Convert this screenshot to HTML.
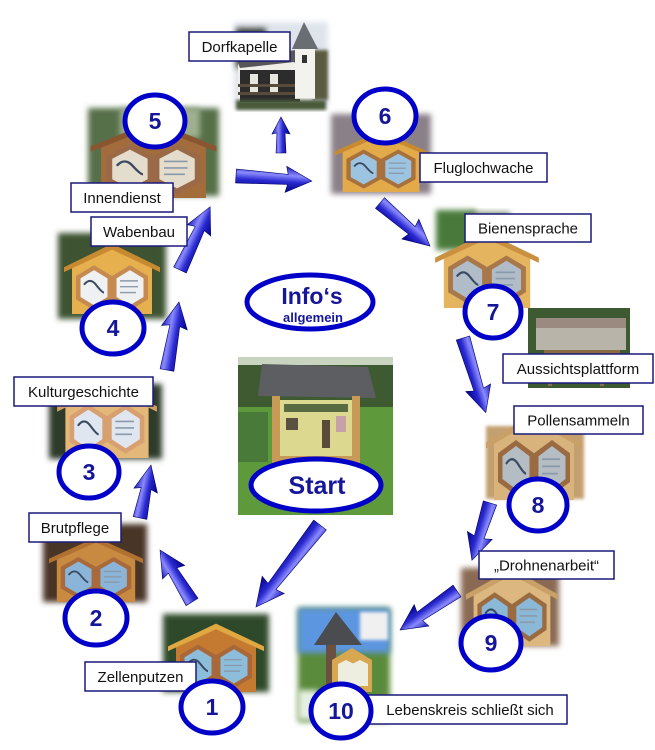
<!DOCTYPE html>
<html><head><meta charset="utf-8">
<style>
html,body{margin:0;padding:0;background:#fff;}
svg{display:block;}
.lbl rect{fill:#fff;stroke:#1a1a7a;stroke-width:1.5;}
.lbl text{font-family:"Liberation Sans",Arial,sans-serif;font-size:15px;fill:#111;text-anchor:middle;}
.num ellipse{fill:#fff;stroke:#0000c8;stroke-width:5;}
.num text{font-family:"Liberation Sans",Arial,sans-serif;font-weight:bold;font-size:23px;fill:#16169a;text-anchor:middle;}
.arr{fill:url(#ag);stroke:#00006a;stroke-width:0.6;}
</style></head>
<body>
<svg width="655" height="750" viewBox="0 0 655 750" xmlns="http://www.w3.org/2000/svg">
<defs>
  <filter id="soft" x="-20%" y="-20%" width="140%" height="140%"><feGaussianBlur stdDeviation="3"/></filter>
  <filter id="soft2" x="-20%" y="-20%" width="140%" height="140%"><feGaussianBlur stdDeviation="1.5"/></filter>
  <linearGradient id="ag" x1="0" y1="0" x2="0" y2="1">
    <stop offset="0" stop-color="#1a1ab8"/>
    <stop offset="0.35" stop-color="#8a8aff"/>
    <stop offset="0.6" stop-color="#2a2ad0"/>
    <stop offset="1" stop-color="#00008a"/>
  </linearGradient>
  <symbol id="sign" viewBox="0 0 100 80" preserveAspectRatio="none">
    <polygon points="10,30 50,12 90,30 90,80 10,80" style="fill:var(--wood)"/>
    <polygon points="2,32 50,8 98,32 98,37 50,14 2,37" style="fill:var(--roof)"/>
    <polygon points="32,30 50,41 50,65 32,76 14,65 14,41" style="fill:var(--frame)"/>
    <polygon points="32,35 45.5,43.5 45.5,62.5 32,71 18.5,62.5 18.5,43.5" style="fill:var(--panel)"/>
    <polygon points="68,30 86,41 86,65 68,76 50,65 50,41" style="fill:var(--frame)"/>
    <polygon points="68,35 81.5,43.5 81.5,62.5 68,71 54.5,62.5 54.5,43.5" style="fill:var(--panel)"/>
    <path d="M22,50 q6,-8 12,0 t8,8" stroke="#3a4a60" stroke-width="2" fill="none"/>
    <path d="M58,46 h18 M58,52 h18 M58,58 h16" stroke="#8a9aaa" stroke-width="1.5"/>
  </symbol>
</defs>

<!-- ===== Photos ===== -->
<!-- Chapel -->
<g>
  <rect x="234" y="22" width="94" height="86" fill="#dfe4ec" filter="url(#soft)"/>
  <rect x="236" y="28" width="30" height="40" fill="#3c4238" filter="url(#soft)"/>
  <rect x="312" y="50" width="16" height="50" fill="#5a5a40" filter="url(#soft2)"/>
  <polygon points="238,60 300,60 312,72 312,100 238,100" fill="#f0eee8"/>
  <polygon points="236,58 296,50 312,70 306,74 294,62 240,68" fill="#55555a"/>
  <rect x="240" y="70" width="60" height="32" fill="#2c2c2c"/>
  <rect x="250" y="74" width="8" height="18" fill="#e8e6e0"/>
  <rect x="270" y="74" width="8" height="18" fill="#e8e6e0"/>
  <rect x="238" y="84" width="66" height="3" fill="#5a4a3a"/>
  <rect x="238" y="92" width="66" height="3" fill="#5a4a3a"/>
  <rect x="295" y="47" width="20" height="52" fill="#f4f2ee"/>
  <polygon points="292,49 304,22 318,49" fill="#6a6e72"/>
  <rect x="302" y="55" width="5" height="8" fill="#333"/>
  <rect x="236" y="100" width="90" height="10" fill="#4a5a3a" filter="url(#soft2)"/>
</g>
<!-- Photo 5 -->
<g>
  <rect x="88" y="108" width="131" height="88" fill="#56704a" filter="url(#soft)"/>
  <rect x="120" y="108" width="80" height="30" fill="#9fb090" filter="url(#soft)"/>
  <use href="#sign" x="88" y="112" width="131" height="86" style="--wood:#a36c3c;--roof:#8a5630;--frame:#9a6a48;--panel:#e4dccc"/>
</g>
<!-- Photo 6 -->
<g>
  <rect x="331" y="114" width="100" height="80" fill="#8a8088" filter="url(#soft)"/>
  <use href="#sign" x="333" y="124" width="96" height="68" style="--wood:#e2aa48;--roof:#c88a30;--frame:#a8703c;--panel:#9cc4e0"/>
</g>
<!-- Photo 7 -->
<g>
  <rect x="436" y="210" width="40" height="40" fill="#4a7a3a" filter="url(#soft)"/>
  <rect x="470" y="212" width="40" height="20" fill="#7a8a6a" filter="url(#soft)"/>
  <use href="#sign" x="433" y="224" width="108" height="84" style="--wood:#e4b45e;--roof:#c89040;--frame:#a8784a;--panel:#b0bcc8"/>
</g>
<!-- Aussichtsplattform -->
<g>
  <rect x="528" y="308" width="102" height="80" fill="#3e5a32"/>
  <rect x="536" y="318" width="90" height="12" fill="#9a8a80"/>
  <rect x="536" y="328" width="90" height="22" fill="#b8b4aa"/>
  <rect x="544" y="350" width="76" height="6" fill="#8a6a40"/>
  <rect x="548" y="356" width="4" height="30" fill="#8a7050"/>
  <rect x="600" y="356" width="4" height="30" fill="#8a7050"/>
</g>
<!-- Photo 4 -->
<g>
  <rect x="58" y="233" width="108" height="86" fill="#3e5232" filter="url(#soft)"/>
  <use href="#sign" x="62" y="236" width="100" height="78" style="--wood:#e6b04e;--roof:#c88a30;--frame:#c48a50;--panel:#eef0f2"/>
</g>
<!-- Photo 3 -->
<g>
  <rect x="49" y="384" width="113" height="75" fill="#2e3a2a" filter="url(#soft)"/>
  <use href="#sign" x="55" y="372" width="104" height="86" style="--wood:#e4b878;--roof:#d4a060;--frame:#d8a070;--panel:#dfe6f0"/>
</g>
<!-- Photo 2 -->
<g>
  <rect x="43" y="524" width="104" height="78" fill="#4a3628" filter="url(#soft)"/>
  <use href="#sign" x="47" y="530" width="98" height="72" style="--wood:#c88a40;--roof:#b07030;--frame:#a86a3a;--panel:#8ab4d8"/>
</g>
<!-- Photo 1 -->
<g>
  <rect x="163" y="614" width="106" height="78" fill="#2e4a2a" filter="url(#soft)"/>
  <use href="#sign" x="166" y="616" width="100" height="76" style="--wood:#c47a30;--roof:#e0a840;--frame:#a8683a;--panel:#8cbedc"/>
</g>
<!-- Photo 8 -->
<g>
  <rect x="486" y="426" width="98" height="73" fill="#c4a070" filter="url(#soft2)"/>
  <use href="#sign" x="484" y="404" width="100" height="96" style="--wood:#d8b47c;--roof:#c8a068;--frame:#9a6a40;--panel:#b4bcc4"/>
</g>
<!-- Photo 9 -->
<g>
  <rect x="461" y="568" width="98" height="78" fill="#8a6a52" filter="url(#soft)"/>
  <use href="#sign" x="464" y="560" width="96" height="86" style="--wood:#dcb880;--roof:#c8a068;--frame:#9a6a40;--panel:#8cb8d8"/>
</g>
<!-- Start photo -->
<g>
  <rect x="238" y="357" width="155" height="158" fill="#5e9a3c"/>
  <rect x="238" y="357" width="155" height="50" fill="#3e5a30"/>
  <rect x="238" y="357" width="155" height="8" fill="#c8d4c0"/>
  <rect x="238" y="412" width="30" height="50" fill="#4a7a3a"/>
  <polygon points="262,364 368,367 376,398 258,396" fill="#5c5e62"/>
  <rect x="272" y="396" width="8" height="110" fill="#c89a58"/>
  <rect x="352" y="396" width="8" height="110" fill="#c89a58"/>
  <rect x="280" y="400" width="72" height="56" fill="#dcd890"/>
  <rect x="284" y="404" width="64" height="8" fill="#5a6a40"/>
  <rect x="286" y="418" width="12" height="12" fill="#5a5040"/>
  <rect x="322" y="420" width="8" height="28" fill="#5a4a3a"/>
  <rect x="336" y="416" width="10" height="16" fill="#c8a0a8"/>
  <rect x="280" y="456" width="72" height="6" fill="#c89a58"/>
</g>
<!-- Photo 10 -->
<g>
  <rect x="298" y="608" width="92" height="114" fill="#5a8a3a" filter="url(#soft)"/>
  <rect x="298" y="608" width="92" height="45" fill="#5c96e0" filter="url(#soft)"/>
  <rect x="360" y="612" width="28" height="28" fill="#f0f0f0" filter="url(#soft2)"/>
  <polygon points="314,645 336,612 362,645" fill="#4a4c50"/>
  <rect x="326" y="645" width="10" height="60" fill="#6a5040"/>
  <polygon points="332,660 352,648 372,660 372,692 332,692" fill="#d8a850"/>
  <polygon points="338,664 346,660 354,664 354,686 338,686" fill="#eeeee0"/>
  <polygon points="352,664 360,660 368,664 368,686 352,686" fill="#eeeee0"/>
  <rect x="298" y="690" width="20" height="30" fill="#e6f0e0" filter="url(#soft)"/>
</g>

<!-- ===== Arrows ===== -->
<g class="arr">
  <polygon transform="translate(236,176) rotate(3.8)" points="0,-7 52,-5 50,-13 76,0 50,13 52,5 0,7"/>
  <polygon transform="translate(281,153) rotate(-90)" points="0,-5 20,-4 19,-9 36,0 19,9 20,4 0,5"/>
  <polygon transform="translate(380,203) rotate(40.7)" points="0,-7 42,-5 40,-13 66,0 40,13 42,5 0,7"/>
  <polygon transform="translate(463,338) rotate(73)" points="0,-7 54,-5 52,-13 78,0 52,13 54,5 0,7"/>
  <polygon transform="translate(490,503) rotate(107.5)" points="0,-7 36,-5 34,-13 60,0 34,13 36,5 0,7"/>
  <polygon transform="translate(457,591) rotate(145.6)" points="0,-7 45,-5 43,-13 69,0 43,13 45,5 0,7"/>
  <polygon transform="translate(320,525) rotate(128)" points="0,-8 78,-5 76,-14 104,0 76,14 78,5 0,8"/>
  <polygon transform="translate(192,602) rotate(-121.6)" points="0,-7 37,-5 35,-13 61,0 35,13 37,5 0,7"/>
  <polygon transform="translate(140,518) rotate(-78.3)" points="0,-7 30,-5 28,-12 54,0 28,12 30,5 0,7"/>
  <polygon transform="translate(167,370) rotate(-80)" points="0,-7 45,-5 43,-13 69,0 43,13 45,5 0,7"/>
  <polygon transform="translate(180,270) rotate(-64.5)" points="0,-7 46,-5 44,-13 70,0 44,13 46,5 0,7"/>
</g>

<!-- ===== Labels ===== -->
<g class="lbl">
  <rect x="189" y="32" width="101" height="29"/><text x="239.5" y="52">Dorfkapelle</text>
  <rect x="71" y="183" width="102" height="29"/><text x="122" y="203">Innendienst</text>
  <rect x="91" y="217" width="96" height="29"/><text x="139" y="237">Wabenbau</text>
  <rect x="14" y="377" width="139" height="29"/><text x="83.5" y="397">Kulturgeschichte</text>
  <rect x="29" y="513" width="92" height="29"/><text x="75" y="533">Brutpflege</text>
  <rect x="85" y="662" width="111" height="29"/><text x="140.5" y="682">Zellenputzen</text>
  <rect x="420" y="153" width="127" height="29"/><text x="483.5" y="173">Fluglochwache</text>
  <rect x="465" y="214" width="126" height="28"/><text x="528" y="233.5">Bienensprache</text>
  <rect x="503" y="354" width="150" height="29"/><text x="578" y="374">Aussichtsplattform</text>
  <rect x="514" y="406" width="129" height="28"/><text x="578.5" y="425.5">Pollensammeln</text>
  <rect x="479" y="551" width="135" height="28"/><text x="546.5" y="570.5">„Drohnenarbeit“</text>
  <rect x="368" y="695" width="199" height="29"/><text x="470" y="715">Lebenskreis schließt  sich</text>
</g>

<!-- ===== Number circles ===== -->
<g class="num">
  <ellipse cx="155" cy="121" rx="30" ry="26"/><text x="155" y="129">5</text>
  <ellipse cx="385" cy="116" rx="31" ry="27"/><text x="385" y="124">6</text>
  <ellipse cx="113" cy="328" rx="31" ry="26"/><text x="113" y="336">4</text>
  <ellipse cx="89" cy="472" rx="30" ry="26"/><text x="89" y="480">3</text>
  <ellipse cx="96" cy="618" rx="31" ry="27"/><text x="96" y="626">2</text>
  <ellipse cx="212" cy="707" rx="31" ry="26"/><text x="212" y="715">1</text>
  <ellipse cx="493" cy="312" rx="28" ry="26"/><text x="493" y="320">7</text>
  <ellipse cx="538" cy="505" rx="29" ry="26"/><text x="538" y="513">8</text>
  <ellipse cx="491" cy="643" rx="30" ry="27"/><text x="491" y="651">9</text>
  <ellipse cx="341" cy="711" rx="30" ry="27"/><text x="341" y="719">10</text>
  <ellipse cx="310" cy="302" rx="63" ry="27"/>
  <text x="312" y="304" style="font-size:23px">Info‘s</text>
  <text x="313" y="322" style="font-size:13px">allgemein</text>
  <ellipse cx="316" cy="485" rx="65" ry="26"/>
  <text x="317" y="494" style="font-size:25px">Start</text>
</g>
</svg>
</body></html>
